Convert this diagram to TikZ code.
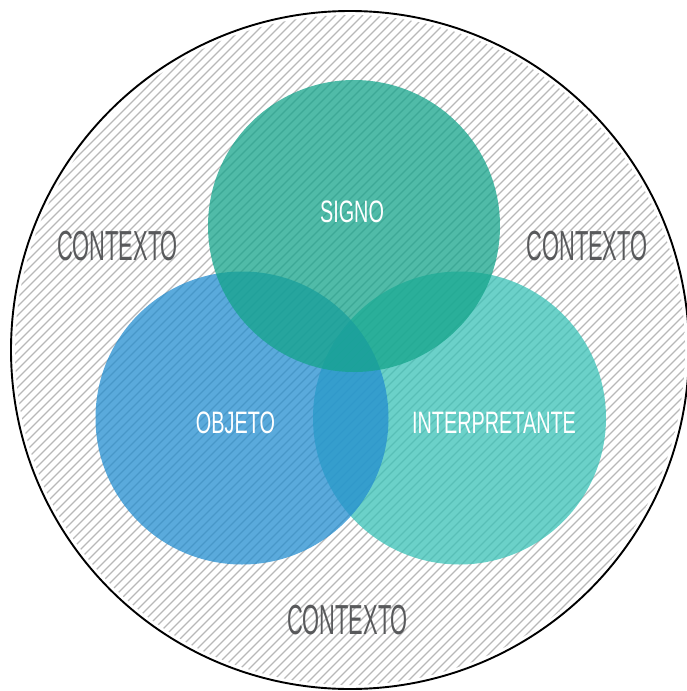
\documentclass[tikz,border=0pt]{standalone}
\usepackage{fontspec}
\newfontfamily\ctxfont[FakeStretch=0.52]{Liberation Sans}
\newfontfamily\vennfont[FakeStretch=0.64]{Liberation Sans}
\definecolor{signocol}{HTML}{15A48B}
\definecolor{objetocol}{HTML}{238DD0}
\definecolor{interpcol}{HTML}{39C2B7}
\definecolor{hatchgray}{HTML}{B8B8B8}
\definecolor{ctxgray}{HTML}{58595B}

\begin{document}
\begin{tikzpicture}[x=1pt, y=-1pt,
    hatch/.style={draw=hatchgray, line width=1.1pt},
    venn/.style={fill opacity=0.75},
    ctx/.style={text=ctxgray, inner sep=0pt, font=\ctxfont\fontsize{42}{42}\selectfont},
    lbl/.style={text=white, inner sep=0pt, font=\vennfont\fontsize{31}{31}\selectfont}]
  \useasboundingbox (0,0) rectangle (686,691);
  % hatched context
  \begin{scope}
    \clip (350,350) circle (335);
    \foreach \c in {0,9,...,1400}
      \draw[hatch] (\c,0) -- (\c-700,700);
  \end{scope}
  \draw[line width=1.9pt] (350,350) circle (339);
  % the three circles
  \fill[venn, interpcol] (459.5,418) circle (146.5);
  \fill[venn, objetocol] (242,418) circle (146.5);
  \fill[venn, signocol] (354,226) circle (146);
  % labels
  \node[lbl] (signo) at (352,212) {SIGNO};
  \node[lbl] (objeto) at (235.5,423) {OBJETO};
  \node[lbl] (interp) at (494,423) {INTERPRETANTE};
  \node[ctx] (ctxleft) at (117.5,246) {CONTEXTO};
  \node[ctx] (ctxright) at (587,246) {CONTEXTO};
  \node[ctx] (ctxbottom) at (347.5,620) {CONTEXTO};
\end{tikzpicture}
\end{document}
